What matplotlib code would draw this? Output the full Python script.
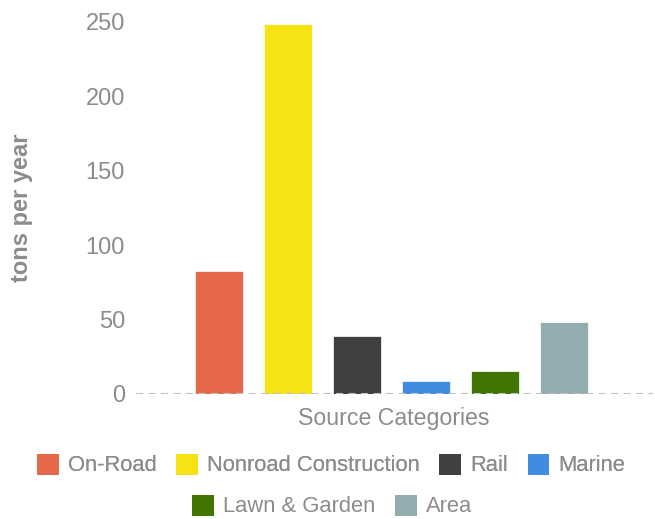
import matplotlib.pyplot as plt
from matplotlib.patches import Patch

categories = ["On-Road", "Nonroad Construction", "Rail", "Marine", "Lawn & Garden", "Area"]
values = [82.5, 248.5, 39, 8.5, 15.5, 48.5]
colors = ["#E5684B", "#F5E314", "#404040", "#418BE0", "#3F7500", "#93ACB0"]
y_ticks = [0, 50, 100, 150, 200, 250]

plt.rcParams['font.family'] = ['Liberation Sans', 'DejaVu Sans']
grey = "#8c8c8c"

fig = plt.figure(figsize=(6.55, 5.19), dpi=100)
ax = fig.add_axes([136 / 655, 125 / 519, 517 / 655, 372 / 519])

x = list(range(len(categories)))
ax.bar(x, values, width=0.7, color=colors, edgecolor="white", linewidth=0.5, zorder=2)

ax.axhline(0, color="#c0c0c0", linestyle=(0, (3.4, 2.6)), linewidth=1.5, zorder=3)

ax.set_xlim(-1.203, 6.29)
ax.set_ylim(0, 250)
ax.set_yticks(y_ticks)
ax.set_xticks([])
ax.tick_params(axis="y", length=0, pad=8, labelsize=17, labelcolor=grey)
for s in ax.spines.values():
    s.set_visible(False)

fig.text(22 / 655, 1 - 208 / 519, "tons per year", rotation=90, ha="center", va="center",
         fontsize=17, fontweight="bold", color=grey)
fig.text(394 / 655, 1 - 418 / 519, "Source Categories", ha="center", va="center",
         fontsize=16.7, color=grey)

handles = [Patch(facecolor=c, edgecolor="none") for c in colors]
leg_kw = dict(frameon=False, fontsize=15.8, handlelength=1.0, handleheight=1.1,
              handletextpad=0.4, columnspacing=0.9, labelcolor=grey, borderpad=0)
leg1 = fig.legend(handles[:4], categories[:4], ncol=4, loc="center",
                  bbox_to_anchor=(331 / 655, 1 - 465 / 519), **leg_kw)
fig.add_artist(leg1)
fig.legend(handles[4:], categories[4:], ncol=2, loc="center",
           bbox_to_anchor=(332 / 655, 1 - 506 / 519), **leg_kw)

fig.savefig("out.png", dpi=100)
